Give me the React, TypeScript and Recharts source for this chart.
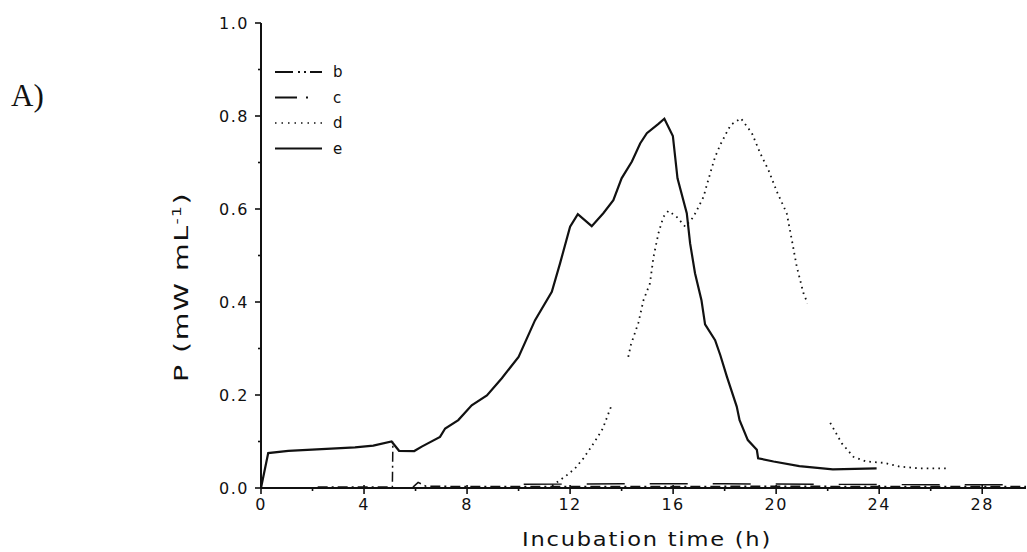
import { LineChart, Line, XAxis, YAxis, Legend } from "recharts";

// incubation time (h) / power (mW mL-1) per culture
const eHours = [0, 0.28, 1.06, 3.65, 4.36, 5.07, 5.36, 5.95, 6.24, 6.95, 7.15, 7.66, 8.18, 8.77, 9.35, 10.0, 10.64, 11.29, 11.61, 12.0, 12.3, 12.84, 13.29, 13.68, 14.0, 14.4, 14.72, 14.98, 15.43, 15.66, 15.99, 16.17, 16.53, 16.66, 16.85, 17.1, 17.24, 17.63, 17.83, 18.09, 18.47, 18.58, 18.9, 19.25, 19.3, 19.9, 20.9, 22.2, 23.9];
const eValues = [0, 0.075, 0.08, 0.0875, 0.091, 0.1, 0.08, 0.0795, 0.089, 0.11, 0.128, 0.146, 0.178, 0.199, 0.236, 0.282, 0.361, 0.422, 0.483, 0.562, 0.589, 0.563, 0.591, 0.619, 0.666, 0.702, 0.741, 0.763, 0.783, 0.794, 0.757, 0.666, 0.591, 0.526, 0.462, 0.404, 0.352, 0.318, 0.286, 0.239, 0.175, 0.146, 0.103, 0.082, 0.064, 0.057, 0.047, 0.04, 0.042];

const dHours = [11.3, 11.84, 12.19, 12.52, 12.78, 13.04, 13.27, 13.59, 13.9, 14.26, 14.36, 14.65, 14.85, 15.1, 15.24, 15.43, 15.62, 15.82, 16.14, 16.47, 16.79, 17.18, 17.31, 17.5, 17.63, 17.83, 18.09, 18.24, 18.63, 19.06, 19.38, 19.7, 20.03, 20.41, 20.61, 20.8, 21.06, 21.22, 21.6, 22.1, 22.55, 23.0, 23.5, 24.2, 24.8, 25.6, 26.6];
const dValues = [0.005, 0.026, 0.042, 0.064, 0.085, 0.107, 0.128, 0.175, null, 0.282, 0.308, 0.355, 0.404, 0.44, 0.497, 0.548, 0.583, 0.596, 0.583, 0.562, 0.583, 0.626, 0.652, 0.688, 0.712, 0.738, 0.766, 0.781, 0.795, 0.763, 0.72, 0.684, 0.637, 0.591, 0.533, 0.476, 0.419, 0.397, null, 0.14, 0.096, 0.067, 0.057, 0.054, 0.046, 0.042, 0.042];

const bHours = [2.2, 5.1, 5.12, 5.5, 5.9, 6.1, 6.4, 8, 10, 12, 16, 20, 24, 28, 29.7];
const bValues = [0.002, 0.002, 0.1, null, 0.002, 0.012, 0.004, 0.003, 0.003, 0.003, 0.003, 0.004, 0.003, 0.003, 0.003];

const cHours = [10.2, 14, 18, 22, 26, 29.7];
const cValues = [0.008, 0.009, 0.009, 0.008, 0.007, 0.007];

const xTicks = [0, 2, 4, 6, 8, 10, 12, 14, 16, 18, 20, 22, 24, 26, 28];
const yTicks = [0, 0.1, 0.2, 0.3, 0.4, 0.5, 0.6, 0.7, 0.8, 0.9, 1.0];

const toRows = (hours: number[], values: (number | null)[]) =>
  hours.map((h, i) => ({ h, v: values[i] }));

const ink = "#111";
const font = "'DejaVu Sans', sans-serif";

const legendSamples: Record<string, string | undefined> = {
  b: "18 5 2 4 2 4",
  c: "22 9 2 20",
  d: "1.5 5",
  e: undefined,
};

const XTick = (props: any) => {
  const { x, y, payload } = props;
  const major = payload.value % 4 === 0;
  return (
    <g>
      <line x1={x} x2={x} y1={y - (major ? 3 : 0)} y2={y + (major ? 6 : 3)} stroke={ink} strokeWidth={1.6} />
      {major && (
        <text x={x} y={y + 22} textAnchor="middle" fontSize={16} letterSpacing={1.5} fontFamily={font} fill={ink}>
          {payload.value}
        </text>
      )}
    </g>
  );
};

const YTick = (props: any) => {
  const { x, y, payload } = props;
  const major = Math.round(payload.value * 10) % 2 === 0;
  return (
    <g>
      <line x1={x - (major ? 6 : 3)} x2={x} y1={y} y2={y} stroke={ink} strokeWidth={1.6} />
      {major && (
        <text x={x - 12} y={y + 6} textAnchor="end" fontSize={16} letterSpacing={1.5} fontFamily={font} fill={ink}>
          {payload.value.toFixed(1)}
        </text>
      )}
    </g>
  );
};

const CustomLegend = (props: any) => {
  const { payload } = props;
  return (
    <svg width={90} height={110}>
      {payload.map((entry: any, i: number) => (
        <g key={`item-${i}`}>
          <line
            x1={5}
            x2={52}
            y1={12 + i * 25.5}
            y2={12 + i * 25.5}
            stroke={ink}
            strokeWidth={entry.value === "d" ? 1.6 : 1.8}
            strokeDasharray={legendSamples[entry.value]}
          />
          <text x={63} y={17 + i * 25.5} fontSize={15} fontFamily={font} fill={ink}>
            {entry.value}
          </text>
        </g>
      ))}
    </svg>
  );
};

export default function App() {
  return (
    <div style={{ position: "absolute", left: 0, top: 0, width: 1027, height: 552, background: "#fff" }}>
      <div
        style={{
          position: "absolute",
          left: 11,
          top: 78,
          fontFamily: "'Liberation Serif', serif",
          fontSize: 31,
          color: ink,
        }}
      >
        A)
      </div>
      <LineChart width={1027} height={552} margin={{ top: 23, right: 1, bottom: 24, left: 201 }}>
        <XAxis
          dataKey="h"
          type="number"
          domain={[0, 29.7]}
          ticks={xTicks}
          interval={0}
          tick={<XTick />}
          tickSize={0}
          tickMargin={0}
          height={40}
          axisLine={{ stroke: ink, strokeWidth: 2 }}
          allowDataOverflow
          label={{
            content: () => (
              <text
                x={522}
                y={546}
                textLength={250}
                lengthAdjust="spacingAndGlyphs"
                fontSize={19}
                letterSpacing={1.5}
                fontFamily={font}
                fill={ink}
              >
                Incubation time (h)
              </text>
            ),
          }}
        />
        <YAxis
          type="number"
          domain={[0, 1]}
          ticks={yTicks}
          interval={0}
          tick={<YTick />}
          tickSize={0}
          tickMargin={0}
          width={60}
          axisLine={{ stroke: ink, strokeWidth: 2 }}
          allowDataOverflow
          label={{
            content: () => (
              <text
                transform="translate(188 382) rotate(-90)"
                fontSize={20}
                fontFamily={font}
                fill={ink}
                letterSpacing={1}
                textLength={190}
                lengthAdjust="spacingAndGlyphs"
              >
                P (mW mL
                <tspan dy={-7} fontSize={12}>-1</tspan>
                <tspan dy={7}>)</tspan>
              </text>
            ),
          }}
        />
        <Legend
          layout="vertical"
          align="center"
          verticalAlign="middle"
          content={<CustomLegend />}
          wrapperStyle={{ left: 270, top: 60, width: 90, height: 110 }}
        />
        <Line data={toRows(bHours, bValues)} dataKey="v" name="b" stroke={ink} strokeWidth={1.5} strokeDasharray="10 4 2 4" dot={false} isAnimationActive={false} />
        <Line data={toRows(cHours, cValues)} dataKey="v" name="c" stroke={ink} strokeWidth={1.4} strokeDasharray="38 25" dot={false} isAnimationActive={false} />
        <Line data={toRows(dHours, dValues)} dataKey="v" name="d" stroke={ink} strokeWidth={1.8} strokeDasharray="1.6 4.2" dot={false} isAnimationActive={false} />
        <Line data={toRows(eHours, eValues)} dataKey="v" name="e" stroke={ink} strokeWidth={2.2} dot={false} isAnimationActive={false} />
      </LineChart>
    </div>
  );
}
